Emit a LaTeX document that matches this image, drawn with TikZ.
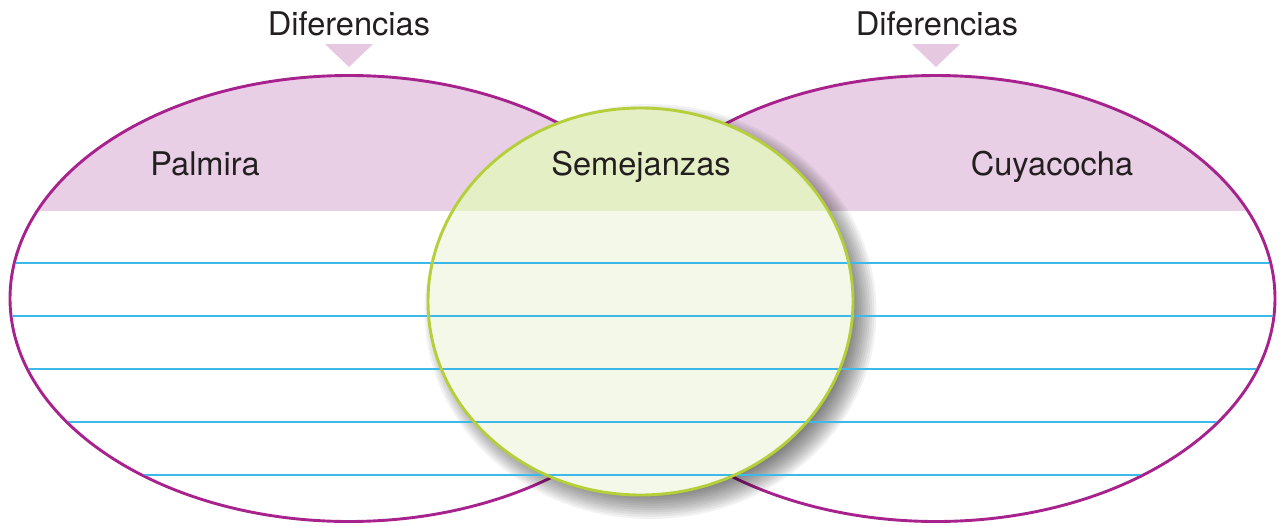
\documentclass[tikz,border=0pt]{standalone}
\usepackage{fontspec}
\setmainfont{TeX Gyre Heros}
\usetikzlibrary{calc}
\definecolor{ellstroke}{HTML}{A8228E}
\definecolor{pinkband}{HTML}{E8CFE5}
\definecolor{tri}{HTML}{E6C8E1}
\definecolor{gtop}{HTML}{E5EFC6}
\definecolor{glow}{HTML}{F3F8E8}
\definecolor{gstroke}{HTML}{B5CF3A}
\definecolor{rule}{HTML}{3DB9E9}
\definecolor{txt}{HTML}{231F20}
\tikzset{
  lbl/.style={font=\fontsize{16.3}{19}\selectfont, text=txt, anchor=base, inner sep=0pt},
  ellline/.style={draw=ellstroke, line width=1.45pt},
  circline/.style={draw=gstroke, line width=1.45pt},
  ruleline/.style={draw=rule, line width=0.95pt},
  marker/.style={fill=tri}
}
\begin{document}
\begin{tikzpicture}[x=0.5pt,y=-0.5pt]
\useasboundingbox (0,0) rectangle (1280,525);
\coordinate (L) at (349,298.5);
\coordinate (R) at (936,298.5);
\coordinate (C) at (640.5,301.5);
\coordinate (S) at (650.5,311.5);
% ellipse fills
\fill[white] (L) ellipse [x radius=169.5pt, y radius=111.5pt];
\fill[white] (R) ellipse [x radius=169.5pt, y radius=111.5pt];
\begin{scope}
  \clip (0,0) rectangle (1280,210);
  \fill[pinkband] (L) ellipse [x radius=169.5pt, y radius=111.5pt];
  \fill[pinkband] (R) ellipse [x radius=169.5pt, y radius=111.5pt];
\end{scope}
\draw[ellline] (L) ellipse [x radius=169.5pt, y radius=111.5pt];
\draw[ellline] (R) ellipse [x radius=169.5pt, y radius=111.5pt];
% shadow
\foreach \k in {0,...,11}{
  \pgfmathsetmacro{\rx}{(212+14-2.2*\k)*0.5}
  \pgfmathsetmacro{\ry}{(193.5+14-2.2*\k)*0.5}
  \fill[black, opacity=0.05] (S) ellipse [x radius=\rx pt, y radius=\ry pt];
}
% circle fill
\fill[glow] (C) ellipse [x radius=106.25pt, y radius=96.75pt];
\begin{scope}
  \clip (0,0) rectangle (1280,210);
  \fill[gtop] (C) ellipse [x radius=106.25pt, y radius=96.75pt];
\end{scope}
% rules
\begin{scope}
  \clip (L) ellipse [x radius=168.8pt, y radius=110.8pt]
        (R) ellipse [x radius=168.8pt, y radius=110.8pt]
        (C) ellipse [x radius=106pt, y radius=96.5pt];
  \foreach \yy in {263,316,369,422,475}{
    \draw[ruleline] (0,\yy) -- (1280,\yy);
  }
\end{scope}
\draw[circline] (C) ellipse [x radius=106.25pt, y radius=96.75pt];
% markers
\fill[marker] (325,44) -- (373,44) -- (349,67) -- cycle;
\fill[marker] (912,44) -- (960,44) -- (936,67) -- cycle;
% labels
\node[lbl] (difl) at (349,35) {Diferencias};
\node[lbl] (difr) at (937,35) {Diferencias};
\node[lbl] (palmira) at (205,175) {Palmira};
\node[lbl] (semej) at (641,175) {Semejanzas};
\node[lbl] (cuya) at (1052,175) {Cuyacocha};
\end{tikzpicture}
\end{document}
